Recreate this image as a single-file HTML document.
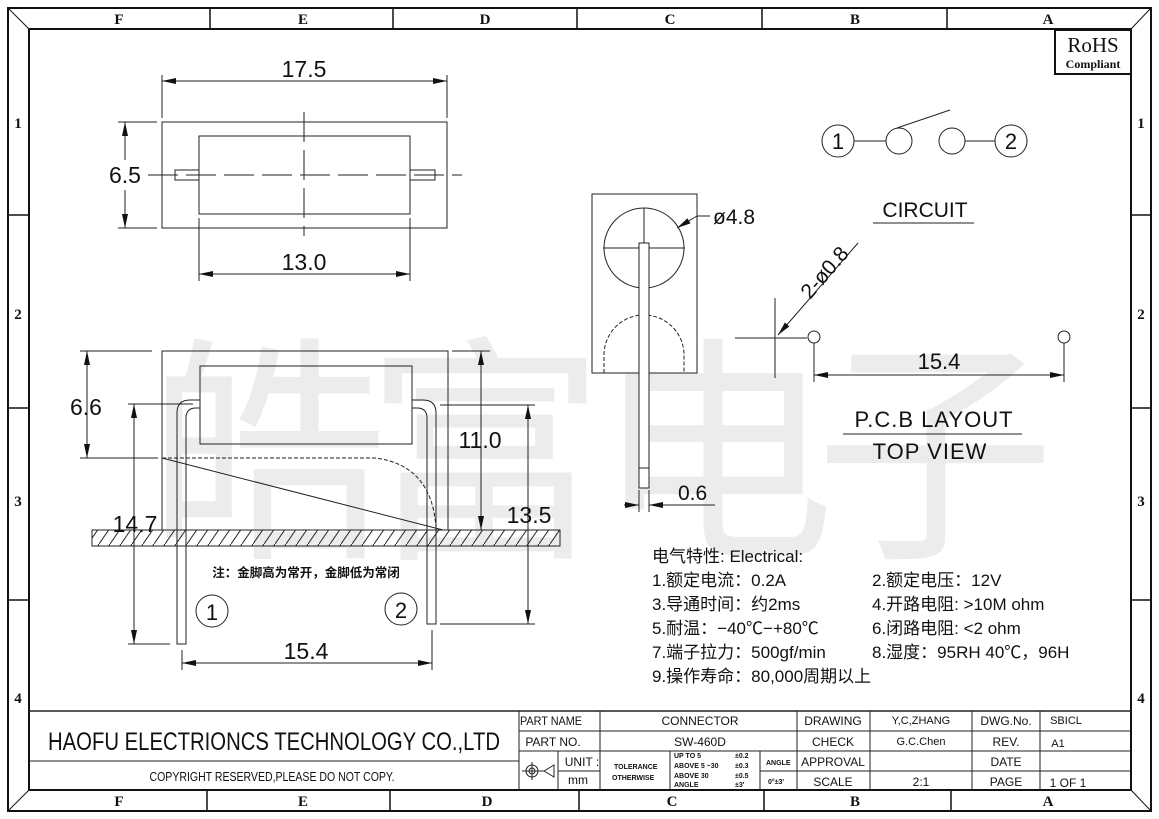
<!DOCTYPE html>
<html><head><meta charset="utf-8"><style>
html,body{margin:0;padding:0;background:#fff}
svg{display:block}
text{font-family:"Liberation Sans","Noto Sans CJK SC",sans-serif;fill:#111}
.s{font-family:"Liberation Serif","Noto Serif CJK SC",serif;font-weight:bold}
.cj{font-family:"Liberation Sans","Noto Sans CJK SC",sans-serif}
</style></head><body>
<svg width="1159" height="819" viewBox="0 0 1159 819" xmlns="http://www.w3.org/2000/svg">
<defs>
<marker id="a" viewBox="0 0 14 6" refX="14" refY="3" markerWidth="14" markerHeight="6" markerUnits="userSpaceOnUse" orient="auto-start-reverse"><path d="M0,0 L14,3 L0,6 z" fill="#111"/></marker>
<pattern id="h" width="11" height="16" patternUnits="userSpaceOnUse"><line x1="0" y1="16" x2="11" y2="0" stroke="#222" stroke-width="1"/></pattern>
</defs>
<!-- watermark -->
<g font-size="240" style="font-family:'Noto Sans CJK SC',sans-serif">
<text x="148" y="540" style="fill:#ececec">皓</text>
<text x="365" y="540" style="fill:#ececec">富</text>
<text x="595" y="540" style="fill:#ececec">电</text>
<text x="815" y="540" style="fill:#ececec">子</text>
</g>
<!-- frame -->
<g stroke="#111" fill="none">
<rect x="8" y="8" width="1143" height="803" stroke-width="2"/>
<rect x="29" y="29" width="1102" height="761" stroke-width="2"/>
<line x1="8" y1="8" x2="29" y2="29"/><line x1="1151" y1="8" x2="1131" y2="29"/>
<line x1="8" y1="811" x2="29" y2="790"/><line x1="1151" y1="811" x2="1131" y2="790"/>
<g stroke-width="1.5">
<line x1="210" y1="8" x2="210" y2="29"/><line x1="393" y1="8" x2="393" y2="29"/><line x1="577" y1="8" x2="577" y2="29"/><line x1="762" y1="8" x2="762" y2="29"/><line x1="947" y1="8" x2="947" y2="29"/>
<line x1="207" y1="790" x2="207" y2="811"/><line x1="390" y1="790" x2="390" y2="811"/><line x1="579" y1="790" x2="579" y2="811"/><line x1="764" y1="790" x2="764" y2="811"/><line x1="951" y1="790" x2="951" y2="811"/>
<line x1="8" y1="215" x2="29" y2="215"/><line x1="8" y1="408" x2="29" y2="408"/><line x1="8" y1="600" x2="29" y2="600"/>
<line x1="1131" y1="215" x2="1151" y2="215"/><line x1="1131" y1="408" x2="1151" y2="408"/><line x1="1131" y1="600" x2="1151" y2="600"/>
</g>
</g>
<g class="s" font-size="15" text-anchor="middle">
<text x="119" y="24" class="s">F</text><text x="303" y="24" class="s">E</text><text x="485" y="24" class="s">D</text><text x="670" y="24" class="s">C</text><text x="855" y="24" class="s">B</text><text x="1048" y="24" class="s">A</text>
<text x="119" y="806" class="s">F</text><text x="303" y="806" class="s">E</text><text x="487" y="806" class="s">D</text><text x="672" y="806" class="s">C</text><text x="855" y="806" class="s">B</text><text x="1048" y="806" class="s">A</text>
<text x="18" y="128" class="s">1</text><text x="18" y="319" class="s">2</text><text x="18" y="506" class="s">3</text><text x="18" y="703" class="s">4</text>
<text x="1141" y="128" class="s">1</text><text x="1141" y="319" class="s">2</text><text x="1141" y="506" class="s">3</text><text x="1141" y="703" class="s">4</text>
</g>
<!-- RoHS -->
<rect x="1055" y="30" width="76" height="44" fill="#fff" stroke="#111" stroke-width="2"/>
<text x="1093" y="52" text-anchor="middle" font-size="21" style="font-family:'Liberation Serif',serif">RoHS</text>
<text x="1093" y="68" text-anchor="middle" class="s" font-size="12">Compliant</text>

<!-- drawing 1 top view -->
<g stroke="#222" fill="none" stroke-width="1">
<rect x="162" y="122" width="285" height="106"/>
<rect x="199" y="136" width="211" height="78"/>
<rect x="175" y="170" width="24" height="10"/>
<rect x="410" y="170" width="25" height="10"/>
<line x1="148" y1="175" x2="462" y2="175" stroke-dasharray="30,8"/>
<line x1="304" y1="112" x2="304" y2="236" stroke-dasharray="30,8"/>
<line x1="162" y1="75" x2="162" y2="118"/><line x1="447" y1="75" x2="447" y2="118"/>
<line x1="162" y1="81" x2="447" y2="81" marker-start="url(#a)" marker-end="url(#a)"/>
<line x1="118" y1="122" x2="157" y2="122"/><line x1="118" y1="228" x2="157" y2="228"/>
<line x1="125" y1="122" x2="125" y2="160" marker-start="url(#a)"/><line x1="125" y1="190" x2="125" y2="228" marker-end="url(#a)"/>
<line x1="199" y1="218" x2="199" y2="281"/><line x1="410" y1="218" x2="410" y2="281"/>
<line x1="199" y1="274" x2="410" y2="274" marker-start="url(#a)" marker-end="url(#a)"/>
</g>
<g font-size="23" text-anchor="middle">
<text x="304" y="77">17.5</text><text x="125" y="183">6.5</text><text x="304" y="270">13.0</text>
</g>

<!-- drawing 2 side view -->
<g stroke="#222" fill="none" stroke-width="1">
<rect x="162" y="351" width="286" height="179"/>
<rect x="200" y="366" width="212" height="78"/>
<path d="M200,400 H190 Q177,400 177,413 V644 H186 V418 Q186,408 196,408 H200"/>
<path d="M412,400 H423 Q436,400 436,413 V624 H427 V418 Q427,408 417,408 H412"/>
<path d="M162,458 H375 Q432,465 436,528" stroke-dasharray="4,2"/>
<line x1="162" y1="458" x2="443" y2="530"/>
<rect x="92" y="530" width="468" height="16" fill="url(#h)"/>
<line x1="80" y1="351" x2="152" y2="351"/><line x1="80" y1="458" x2="158" y2="458"/>
<line x1="87" y1="351" x2="87" y2="458" marker-start="url(#a)" marker-end="url(#a)"/>
<line x1="128" y1="404" x2="193" y2="404"/><line x1="128" y1="644" x2="170" y2="644"/>
<line x1="134" y1="404" x2="134" y2="644" marker-start="url(#a)" marker-end="url(#a)"/>
<line x1="452" y1="351" x2="490" y2="351"/>
<line x1="481" y1="351" x2="481" y2="530" marker-start="url(#a)" marker-end="url(#a)"/>
<line x1="440" y1="405" x2="535" y2="405"/><line x1="440" y1="624" x2="535" y2="624"/>
<line x1="528" y1="405" x2="528" y2="624" marker-start="url(#a)" marker-end="url(#a)"/>
<line x1="182" y1="650" x2="182" y2="670"/><line x1="432" y1="630" x2="432" y2="670"/>
<line x1="182" y1="663" x2="432" y2="663" marker-start="url(#a)" marker-end="url(#a)"/>
<circle cx="212" cy="611" r="16"/><circle cx="401" cy="609" r="16"/>
</g>
<g font-size="23" text-anchor="middle">
<text x="86" y="415">6.6</text><text x="135" y="532">14.7</text><text x="480" y="448">11.0</text><text x="529" y="523">13.5</text><text x="306" y="659">15.4</text>
<text x="212" y="620" font-size="22">1</text><text x="401" y="618" font-size="22">2</text>
</g>
<text x="306" y="577" text-anchor="middle" font-size="12.5" font-weight="bold" class="cj">注：金脚高为常开，金脚低为常闭</text>

<!-- drawing 3 end view -->
<g stroke="#222" fill="none" stroke-width="1">
<rect x="592" y="194" width="105" height="179"/>
<circle cx="644" cy="248" r="40"/>
<line x1="603" y1="248" x2="685" y2="248"/><line x1="644" y1="208" x2="644" y2="243"/>
<path d="M604,373 V355 A40,40 0 0 1 684,355 V373" stroke-dasharray="4,2"/>
<rect x="639" y="243" width="10" height="245" fill="#fff"/>
<line x1="639" y1="468" x2="649" y2="468"/>
<line x1="639" y1="490" x2="639" y2="512"/><line x1="649" y1="490" x2="649" y2="512"/>
<line x1="624" y1="505" x2="639" y2="505" marker-end="url(#a)"/>
<line x1="715" y1="505" x2="649" y2="505" marker-end="url(#a)"/>
<line x1="710" y1="216" x2="697" y2="216"/><line x1="697" y1="216" x2="677" y2="228" marker-end="url(#a)"/>
</g>
<text x="713" y="224" font-size="21">ø4.8</text>
<text x="678" y="500" font-size="21">0.6</text>

<!-- circuit -->
<g stroke="#222" fill="none" stroke-width="1">
<circle cx="838" cy="141" r="16"/><line x1="854" y1="141" x2="886" y2="141"/>
<circle cx="899" cy="141" r="13"/><line x1="897" y1="128" x2="950" y2="110"/>
<circle cx="952" cy="141" r="13"/><line x1="965" y1="141" x2="995" y2="141"/>
<circle cx="1011" cy="141" r="16"/>
<line x1="873" y1="223" x2="974" y2="223"/>
</g>
<text x="838" y="149" text-anchor="middle" font-size="22">1</text>
<text x="1011" y="149" text-anchor="middle" font-size="22">2</text>
<text x="925" y="217" text-anchor="middle" font-size="21">CIRCUIT</text>

<!-- pcb layout -->
<g stroke="#222" fill="none" stroke-width="1">
<line x1="735" y1="338" x2="807" y2="338"/><line x1="775" y1="298" x2="775" y2="378"/>
<line x1="858" y1="243" x2="778" y2="335" marker-end="url(#a)"/>
<circle cx="814" cy="337" r="6"/><circle cx="1064" cy="337" r="6"/>
<line x1="814" y1="343" x2="814" y2="382"/><line x1="1064" y1="343" x2="1064" y2="382"/>
<line x1="814" y1="375" x2="1064" y2="375" marker-start="url(#a)" marker-end="url(#a)"/>
<line x1="843" y1="434" x2="1022" y2="434"/>
</g>
<text transform="translate(810,300) rotate(-49)" font-size="21">2-ø0.8</text>
<text x="939" y="369" text-anchor="middle" font-size="22">15.4</text>
<text x="934" y="427" text-anchor="middle" font-size="22" letter-spacing="1">P.C.B  LAYOUT</text>
<text x="930" y="459" text-anchor="middle" font-size="22" letter-spacing="1">TOP  VIEW</text>

<!-- electrical -->
<g font-size="17" class="cj">
<text x="652" y="562">电气特性: Electrical:</text>
<text x="652" y="586">1.额定电流：0.2A</text><text x="872" y="586">2.额定电压：12V</text>
<text x="652" y="610">3.导通时间：约2ms</text><text x="872" y="610">4.开路电阻: &gt;10M  ohm</text>
<text x="652" y="634">5.耐温：−40℃−+80℃</text><text x="872" y="634">6.闭路电阻: &lt;2    ohm</text>
<text x="652" y="658">7.端子拉力：500gf/min</text><text x="872" y="658">8.湿度：95RH 40℃，96H</text>
<text x="652" y="682">9.操作寿命：80,000周期以上</text>
</g>

<!-- title block -->
<g stroke="#222" fill="none" stroke-width="1">
<line x1="29" y1="711" x2="1131" y2="711" stroke-width="1.5"/>
<line x1="29" y1="761" x2="519" y2="761"/>
<line x1="519" y1="711" x2="519" y2="790"/>
<line x1="519" y1="731" x2="1131" y2="731"/><line x1="519" y1="751" x2="1131" y2="751"/>
<line x1="558" y1="771" x2="600" y2="771"/><line x1="760" y1="771" x2="1131" y2="771"/>
<line x1="600" y1="711" x2="600" y2="790"/><line x1="797" y1="711" x2="797" y2="790"/>
<line x1="670" y1="751" x2="670" y2="790"/><line x1="760" y1="751" x2="760" y2="790"/>
<line x1="558" y1="751" x2="558" y2="790"/>
<line x1="870" y1="711" x2="870" y2="790"/><line x1="972" y1="711" x2="972" y2="790"/><line x1="1040" y1="711" x2="1040" y2="790"/>
<circle cx="532" cy="771" r="6"/><circle cx="532" cy="771" r="3"/>
<line x1="522" y1="771" x2="542" y2="771"/><line x1="532" y1="762" x2="532" y2="780"/>
<path d="M542,771 H544 L554,765 V777 L544,771"/>
</g>
<text x="274" y="750" text-anchor="middle" font-size="25" textLength="452" lengthAdjust="spacingAndGlyphs">HAOFU ELECTRIONCS TECHNOLOGY CO.,LTD</text>
<text x="272" y="781" text-anchor="middle" font-size="12.5" textLength="245" lengthAdjust="spacingAndGlyphs">COPYRIGHT RESERVED,PLEASE DO NOT COPY.</text>
<g font-size="12" text-anchor="middle">
<text x="551" y="725" textLength="62" lengthAdjust="spacingAndGlyphs">PART NAME</text>
<text x="553" y="746">PART NO.</text>
<text x="700" y="725">CONNECTOR</text>
<text x="700" y="746">SW-460D</text>
<text x="582" y="766">UNIT :</text>
<text x="578" y="784">mm</text>
<text x="833" y="725">DRAWING</text><text x="833" y="746">CHECK</text><text x="833" y="766">APPROVAL</text><text x="833" y="786">SCALE</text>
<text x="921" y="724" font-size="11">Y,C,ZHANG</text><text x="921" y="745" font-size="11">G.C.Chen</text><text x="921" y="786">2:1</text>
<text x="1006" y="725">DWG.No.</text><text x="1006" y="746">REV.</text><text x="1006" y="766">DATE</text><text x="1006" y="786">PAGE</text>
<text x="1066" y="724" font-size="11">SBICL</text><text x="1058" y="747" font-size="11">A1</text><text x="1068" y="787">1  OF  1</text>
</g>
<g font-size="7" font-weight="bold">
<text x="614" y="769">TOLERANCE</text><text x="612" y="780">OTHERWISE</text>
<text x="674" y="758">UP TO 5</text><text x="735" y="758">±0.2</text>
<text x="674" y="768">ABOVE 5 ~30</text><text x="735" y="768">±0.3</text>
<text x="674" y="778">ABOVE 30</text><text x="735" y="778">±0.5</text>
<text x="674" y="787">ANGLE</text><text x="735" y="787">±3'</text>
<text x="766" y="765">ANGLE</text><text x="768" y="784">0°±3'</text>
</g>
</svg>
</body></html>
